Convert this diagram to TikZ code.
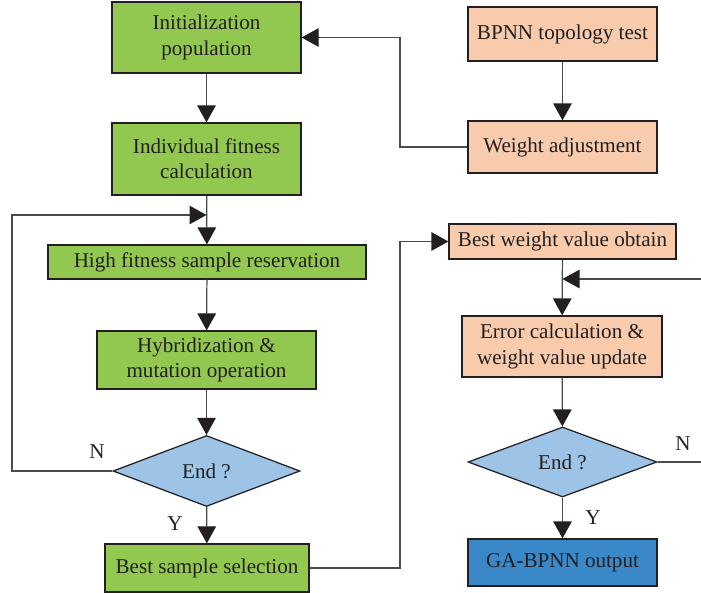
\documentclass[tikz,border=0pt]{standalone}
\usepackage{fontspec}
\setmainfont{Liberation Serif}
\usetikzlibrary{arrows.meta,shapes.geometric}
\definecolor{gaGreen}{RGB}{146,200,80}
\definecolor{bpPeach}{RGB}{248,203,173}
\definecolor{askBlue}{RGB}{157,195,230}
\definecolor{outBlue}{RGB}{58,136,200}
\definecolor{inkGray}{RGB}{35,31,32}
\definecolor{lineGray}{RGB}{75,75,75}
\tikzset{
  box/.style={draw=inkGray, line width=0.7pt, rectangle, align=center, text=inkGray, inner sep=1pt},
  gabox/.style={box, fill=gaGreen},
  bpbox/.style={box, fill=bpPeach},
  ask/.style={draw=inkGray, line width=0.7pt, diamond, aspect=2.65, fill=askBlue, text=inkGray, inner sep=0pt},
  flow/.style={draw=lineGray, line width=0.7pt, -{Triangle[length=0.34cm,width=0.37cm,color=inkGray]}},
  tag/.style={text=inkGray}
}
\begin{document}
\begin{tikzpicture}[font=\fontsize{12}{14.4}\selectfont]
\useasboundingbox (0,0) rectangle (14.02,-11.86);
% genetic algorithm side
\node[gabox, minimum width=3.78cm, minimum height=1.42cm] (initPop) at (4.13, -0.75) {Initialization\\population};
\node[gabox, minimum width=3.78cm, minimum height=1.44cm] (fitCalc) at (4.13, -3.18) {Individual fitness\\calculation};
\node[gabox, minimum width=6.36cm, minimum height=0.68cm] (highFit) at (4.14, -5.24) {High fitness sample reservation};
\node[gabox, minimum width=4.38cm, minimum height=1.16cm] (hybMut) at (4.13, -7.20) {Hybridization \&\\mutation operation};
\node[ask, minimum width=3.74cm, minimum height=1.42cm] (endGA) at (4.13, -9.42) {End ?};
\node[gabox, minimum width=4.08cm, minimum height=0.96cm] (bestSample) at (4.14, -11.36) {Best sample selection};
% BP network side
\node[bpbox, minimum width=3.78cm, minimum height=1.08cm] (topoTest) at (11.25, -0.68) {BPNN topology test};
\node[bpbox, minimum width=3.78cm, minimum height=1.04cm] (weightAdj) at (11.25, -2.94) {Weight adjustment};
\node[bpbox, minimum width=4.54cm, minimum height=0.70cm] (bestWeight) at (11.25, -4.83) {Best weight value obtain};
\node[bpbox, minimum width=4.00cm, minimum height=1.22cm] (errCalc) at (11.24, -6.93) {Error calculation \&\\weight value update};
\node[ask, minimum width=3.78cm, minimum height=1.40cm] (endBP) at (11.25, -9.24) {End ?};
\node[box, fill=outBlue, minimum width=3.78cm, minimum height=0.94cm] (gaOut) at (11.25, -11.25) {GA-BPNN output};
% yes / no tags
\node[tag] (noGA) at (1.94, -9.04) {N};
\node[tag] (yesGA) at (3.50, -10.48) {Y};
\node[tag] (noBP) at (13.66, -8.88) {N};
\node[tag] (yesBP) at (11.86, -10.36) {Y};
% corner points of the bent lines
\coordinate (loopA) at (0.24, -4.30);
\coordinate (joinT) at (8.00, -0.75);
\coordinate (joinR) at (8.00, -4.83);
\coordinate (backR) at (14.40, -5.58);
\draw[flow] (initPop) -- (fitCalc);
\draw[flow] (fitCalc) -- (highFit);
\draw[flow] (highFit) -- (hybMut);
\draw[flow] (hybMut) -- (endGA);
\draw[flow] (endGA) -- (bestSample);
\draw[flow] (endGA.west) -| (loopA) -- (fitCalc.south |- loopA);
\draw[flow] (topoTest) -- (weightAdj);
\draw[flow] (weightAdj.west) -| (joinT) -- (initPop.east);
\draw[flow] (bestSample.east) -| (joinR) -- (bestWeight.west);
\draw[flow] (bestWeight) -- (errCalc);
\draw[flow] (errCalc) -- (endBP);
\draw[flow] (endBP) -- (gaOut);
\draw[flow] (endBP.east) -| (backR) -- (bestWeight.south |- backR); % goes out past the right edge
\end{tikzpicture}
\end{document}
